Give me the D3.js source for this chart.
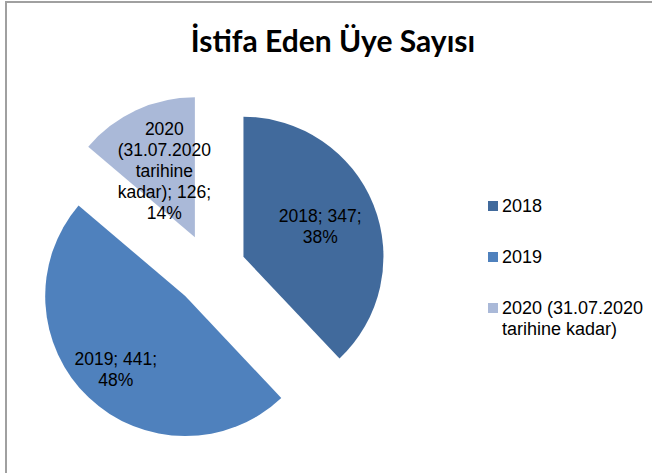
<html>
<head>
<meta charset="utf-8">
<script src="https://d3js.org/d3.v7.min.js"></script>
<style>
  body { margin: 0; background: #fff; }
  svg { display: block; }
</style>
</head>
<body>
<svg class="chart"></svg>
<script>
// data
var categories = ["2018", "2019", "2020 (31.07.2020 tarihine kadar)"];
var values = [347, 441, 126];
var colors = ["#416a9c", "#4f81bd", "#aab9d8"];

var W = 652, H = 473;
var cx = 210, cy = 270, radius = 140, explode = 36;
var labelR = [0.59, 0.72, 0.52]; // distance of the label from the slice tip, per slice
var font = "'Liberation Sans', Arial, sans-serif";

var svg = d3.select(".chart").attr("width", W).attr("height", H);

// frame
svg.append("rect")
  .attr("x", 6).attr("y", 2)
  .attr("width", W + 20).attr("height", H + 20)
  .attr("fill", "#fff")
  .attr("stroke", "#a0a0a0")
  .attr("stroke-width", 2);

svg.append("text")
  .attr("x", 333).attr("y", 52)
  .attr("text-anchor", "middle")
  .style("font-family", "Lato, 'Open Sans', sans-serif")
  .style("font-weight", "bold")
  .style("font-size", "30px")
  .text("İstifa Eden Üye Sayısı");

// greedy word wrap using a hidden measuring text
var meas = svg.append("text").style("font-family", font).style("font-size", "17.5px").attr("opacity", 0);
function wrap(str, maxW, size) {
  meas.style("font-size", size + "px");
  var words = str.split(" "), lines = [], cur = "";
  words.forEach(function(w) {
    var test = cur ? cur + " " + w : w;
    meas.text(test);
    if (cur && meas.node().getComputedTextLength() > maxW) {
      lines.push(cur);
      cur = w;
    } else {
      cur = test;
    }
  });
  if (cur) lines.push(cur);
  return lines;
}

var total = d3.sum(values);
var data = categories.map(function(c, i) { return { cat: c, value: values[i], i: i }; });

var pie = d3.pie().sort(null).value(function(d) { return d.value; });
var arc = d3.arc().innerRadius(0).outerRadius(radius);
var arcs = pie(data);

var g = svg.append("g").attr("transform", "translate(" + cx + "," + cy + ")");

var slice = g.selectAll("g.slice")
  .data(arcs)
  .enter().append("g")
  .attr("class", "slice")
  .attr("transform", function(d) {
    var a = (d.startAngle + d.endAngle) / 2;
    return "translate(" + (Math.sin(a) * explode) + "," + (-Math.cos(a) * explode) + ")";
  });

slice.append("path")
  .attr("d", arc)
  .attr("fill", function(d) { return colors[d.data.i]; });

var lh = 21;
slice.each(function(d) {
  var a = (d.startAngle + d.endAngle) / 2;
  var r = radius * labelR[d.data.i];
  var x = Math.sin(a) * r, y = -Math.cos(a) * r;
  var pct = Math.round(d.data.value / total * 100);
  var lines = wrap(d.data.cat + "; " + d.data.value + "; " + pct + "%", 96, 17.5);
  var t = d3.select(this).append("text")
    .attr("text-anchor", "middle")
    .style("font-family", font)
    .style("font-size", "17.5px")
    .attr("fill", "#000");
  var y0 = y - (lines.length - 1) * lh / 2 + 6;
  lines.forEach(function(l, k) {
    t.append("tspan").attr("x", x).attr("y", y0 + k * lh).text(l);
  });
});

// legend
var legY = d3.scalePoint().domain(categories).range([212, 314]);
var leg = svg.selectAll("g.leg")
  .data(categories)
  .enter().append("g")
  .attr("class", "leg")
  .attr("transform", function(d) { return "translate(488," + legY(d) + ")"; });

leg.append("rect")
  .attr("x", 0).attr("y", -11)
  .attr("width", 10).attr("height", 10)
  .attr("fill", function(d, i) { return colors[i]; });

leg.each(function(d) {
  var lines = wrap(d, 148, 18);
  var t = d3.select(this).append("text")
    .style("font-family", font)
    .style("font-size", "18px")
    .attr("fill", "#000");
  lines.forEach(function(l, k) {
    t.append("tspan").attr("x", 14).attr("y", k * 20.5).text(l);
  });
});

meas.remove();
</script>
</body>
</html>
